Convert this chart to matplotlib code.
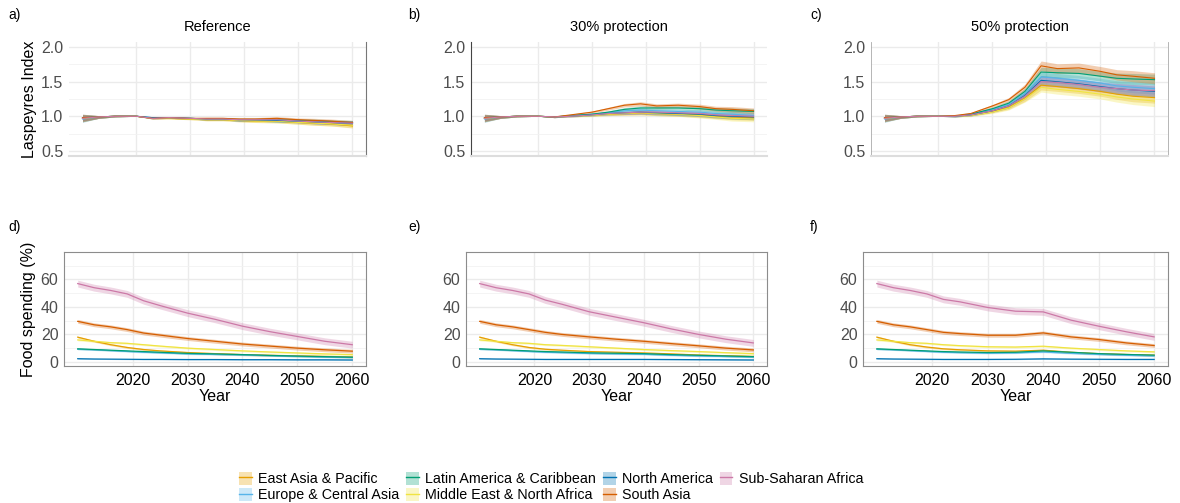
import matplotlib
matplotlib.use("Agg")
import matplotlib.pyplot as plt
from matplotlib.patches import Patch
from matplotlib.lines import Line2D
from matplotlib.ticker import MultipleLocator
import numpy as np

plt.rcParams['font.family'] = ['Liberation Sans', 'DejaVu Sans']

regions = ["East Asia & Pacific", "Europe & Central Asia", "Latin America & Caribbean",
           "Middle East & North Africa", "North America", "South Asia", "Sub-Saharan Africa"]
colors = ["#E69F00", "#56B4E9", "#009E73", "#F0E442", "#0072B2", "#D55E00", "#CC79A7"]

# ---- Top row: Laspeyres index ----
years_top = [2010, 2013, 2016, 2020, 2023, 2026, 2030, 2033, 2036, 2039, 2042, 2046, 2050, 2053, 2056, 2060]

idx_ref = {
    "East Asia & Pacific":        [0.97, 0.99, 1.00, 1.00, 0.97, 0.97, 0.96, 0.95, 0.95, 0.94, 0.93, 0.93, 0.91, 0.90, 0.89, 0.86],
    "Europe & Central Asia":      [0.96, 0.99, 1.00, 1.00, 0.98, 0.98, 0.97, 0.96, 0.96, 0.95, 0.95, 0.94, 0.93, 0.92, 0.91, 0.90],
    "Latin America & Caribbean":  [0.97, 0.99, 1.00, 1.00, 0.97, 0.98, 0.97, 0.96, 0.96, 0.95, 0.95, 0.95, 0.94, 0.93, 0.92, 0.91],
    "Middle East & North Africa": [0.97, 0.99, 1.00, 1.00, 0.97, 0.97, 0.96, 0.95, 0.95, 0.94, 0.93, 0.93, 0.91, 0.90, 0.89, 0.87],
    "North America":              [0.98, 0.99, 1.00, 1.00, 0.98, 0.98, 0.97, 0.96, 0.96, 0.95, 0.95, 0.94, 0.93, 0.92, 0.91, 0.90],
    "South Asia":                 [0.98, 0.99, 1.00, 1.00, 0.97, 0.98, 0.97, 0.97, 0.97, 0.96, 0.96, 0.97, 0.95, 0.94, 0.93, 0.91],
    "Sub-Saharan Africa":         [0.97, 0.99, 1.00, 1.00, 0.97, 0.98, 0.97, 0.96, 0.96, 0.95, 0.95, 0.95, 0.93, 0.92, 0.91, 0.90],
}
idx_30 = {
    "East Asia & Pacific":        [0.97, 0.99, 1.00, 1.00, 0.99, 1.00, 1.02, 1.03, 1.04, 1.05, 1.04, 1.03, 1.02, 1.00, 0.99, 0.98],
    "Europe & Central Asia":      [0.96, 0.99, 1.00, 1.00, 0.99, 1.01, 1.03, 1.05, 1.08, 1.09, 1.08, 1.07, 1.06, 1.04, 1.03, 1.01],
    "Latin America & Caribbean":  [0.97, 0.99, 1.00, 1.00, 0.99, 1.01, 1.03, 1.06, 1.10, 1.12, 1.12, 1.12, 1.11, 1.09, 1.08, 1.07],
    "Middle East & North Africa": [0.97, 0.99, 1.00, 1.00, 0.99, 1.00, 1.01, 1.03, 1.04, 1.05, 1.04, 1.03, 1.01, 0.99, 0.97, 0.96],
    "North America":              [0.98, 0.99, 1.00, 1.00, 0.99, 1.00, 1.02, 1.04, 1.05, 1.06, 1.05, 1.04, 1.03, 1.01, 1.00, 0.99],
    "South Asia":                 [0.98, 0.99, 1.00, 1.00, 0.99, 1.02, 1.06, 1.11, 1.16, 1.18, 1.15, 1.16, 1.14, 1.11, 1.10, 1.08],
    "Sub-Saharan Africa":         [0.97, 0.99, 1.00, 1.00, 0.99, 1.00, 1.02, 1.04, 1.05, 1.06, 1.06, 1.05, 1.04, 1.02, 1.01, 1.00],
}
idx_50 = {
    "East Asia & Pacific":        [0.97, 0.99, 1.00, 1.00, 1.00, 1.02, 1.07, 1.13, 1.26, 1.45, 1.43, 1.40, 1.36, 1.32, 1.29, 1.27],
    "Europe & Central Asia":      [0.96, 0.99, 1.00, 1.00, 1.00, 1.03, 1.10, 1.17, 1.33, 1.57, 1.55, 1.52, 1.48, 1.44, 1.42, 1.40],
    "Latin America & Caribbean":  [0.97, 0.99, 1.00, 1.00, 1.00, 1.03, 1.11, 1.19, 1.36, 1.64, 1.63, 1.62, 1.58, 1.55, 1.54, 1.53],
    "Middle East & North Africa": [0.97, 0.99, 1.00, 1.00, 1.00, 1.01, 1.06, 1.12, 1.25, 1.42, 1.39, 1.36, 1.32, 1.28, 1.25, 1.22],
    "North America":              [0.98, 0.99, 1.00, 1.00, 1.00, 1.02, 1.08, 1.15, 1.30, 1.52, 1.50, 1.47, 1.43, 1.40, 1.38, 1.36],
    "South Asia":                 [0.98, 0.99, 1.00, 1.00, 1.01, 1.04, 1.15, 1.24, 1.42, 1.73, 1.69, 1.70, 1.65, 1.60, 1.58, 1.55],
    "Sub-Saharan Africa":         [0.97, 0.99, 1.00, 1.00, 1.00, 1.02, 1.08, 1.15, 1.29, 1.50, 1.49, 1.46, 1.42, 1.40, 1.38, 1.37],
}
band_ref = [0.05, 0.02, 0.01, 0.00, 0.01, 0.01, 0.01, 0.015, 0.015, 0.02, 0.02, 0.025, 0.025, 0.03, 0.03, 0.03]
band_30 = [0.05, 0.02, 0.01, 0.00, 0.01, 0.01, 0.015, 0.02, 0.025, 0.03, 0.03, 0.03, 0.035, 0.035, 0.04, 0.04]
band_50 = [0.05, 0.02, 0.01, 0.00, 0.01, 0.015, 0.02, 0.03, 0.045, 0.07, 0.07, 0.07, 0.07, 0.075, 0.08, 0.08]

# ---- Bottom row: food spending share (%) ----
years_bot = [2010, 2013, 2016, 2019, 2022, 2025, 2030, 2035, 2040, 2045, 2050, 2055, 2060]

food_ref = {
    "East Asia & Pacific":        [18.0, 15.0, 12.5, 10.5, 9.0, 8.0, 6.8, 6.0, 5.3, 4.8, 4.4, 4.0, 3.6],
    "Europe & Central Asia":      [9.2, 8.8, 8.2, 7.6, 7.0, 6.6, 5.8, 5.4, 5.0, 4.5, 4.0, 3.5, 3.2],
    "Latin America & Caribbean":  [9.5, 9.0, 8.5, 8.0, 7.5, 7.0, 6.2, 5.8, 5.3, 4.7, 4.2, 3.8, 3.4],
    "Middle East & North Africa": [16.0, 15.0, 14.0, 13.5, 12.5, 11.5, 10.0, 9.0, 8.0, 7.2, 6.5, 5.8, 5.3],
    "North America":              [2.3, 2.1, 2.0, 1.9, 1.8, 1.8, 1.7, 1.7, 1.6, 1.6, 1.5, 1.5, 1.4],
    "South Asia":                 [29.5, 27.0, 25.5, 23.5, 21.0, 19.5, 17.0, 15.0, 13.0, 11.5, 10.0, 8.8, 7.8],
    "Sub-Saharan Africa":         [57.0, 54.0, 52.0, 49.5, 44.5, 41.0, 35.5, 31.0, 26.0, 22.0, 18.5, 15.0, 12.5],
}
food_30 = {
    "East Asia & Pacific":        [18.0, 15.0, 12.5, 10.5, 9.2, 8.5, 7.5, 7.0, 6.5, 5.8, 5.0, 4.5, 4.0],
    "Europe & Central Asia":      [9.2, 8.8, 8.2, 7.6, 7.0, 6.7, 6.1, 5.8, 5.5, 4.8, 4.3, 3.9, 3.5],
    "Latin America & Caribbean":  [9.5, 9.0, 8.5, 8.0, 7.5, 7.2, 6.6, 6.3, 6.0, 5.3, 4.8, 4.3, 3.8],
    "Middle East & North Africa": [16.0, 15.0, 14.0, 13.5, 12.5, 12.0, 11.0, 10.0, 9.0, 8.2, 7.5, 6.7, 6.0],
    "North America":              [2.3, 2.1, 2.0, 1.9, 1.8, 1.8, 1.8, 1.8, 1.8, 1.7, 1.6, 1.5, 1.4],
    "South Asia":                 [29.5, 27.0, 25.5, 23.5, 21.5, 20.0, 18.2, 16.5, 15.0, 13.3, 11.7, 10.0, 8.7],
    "Sub-Saharan Africa":         [57.0, 54.0, 52.0, 49.5, 45.0, 42.0, 36.5, 32.5, 28.5, 24.0, 20.0, 16.5, 13.8],
}
food_50 = {
    "East Asia & Pacific":        [18.0, 15.0, 12.5, 10.8, 9.5, 8.8, 8.0, 7.8, 8.5, 7.0, 6.0, 5.4, 4.9],
    "Europe & Central Asia":      [9.2, 8.8, 8.2, 7.6, 7.0, 6.7, 6.3, 6.5, 7.2, 6.2, 5.4, 4.8, 4.3],
    "Latin America & Caribbean":  [9.5, 9.0, 8.5, 8.0, 7.5, 7.2, 6.8, 7.0, 8.0, 7.0, 6.0, 5.4, 4.9],
    "Middle East & North Africa": [16.0, 15.0, 14.0, 13.5, 12.5, 11.8, 11.0, 10.8, 11.4, 10.0, 9.0, 8.0, 7.3],
    "North America":              [2.3, 2.1, 2.0, 1.9, 1.8, 1.8, 1.8, 1.9, 2.2, 2.0, 1.9, 1.8, 1.8],
    "South Asia":                 [29.5, 27.0, 25.5, 23.5, 21.5, 20.6, 19.4, 19.4, 21.1, 18.2, 16.3, 13.8, 11.9],
    "Sub-Saharan Africa":         [57.0, 54.0, 52.0, 49.5, 45.5, 43.7, 39.6, 36.9, 36.4, 30.4, 26.0, 21.9, 18.2],
}
band_food = {
    "East Asia & Pacific": 0.7, "Europe & Central Asia": 0.5, "Latin America & Caribbean": 0.5,
    "Middle East & North Africa": 0.7, "North America": 0.3, "South Asia": 1.4, "Sub-Saharan Africa": 2.5,
}

titles = ["Reference", "30% protection", "50% protection"]
top_labels = ["a)", "b)", "c)"]
bot_labels = ["d)", "e)", "f)"]
x_ticks = [2020, 2030, 2040, 2050, 2060]

W, H = 1180, 503
fig = plt.figure(figsize=(W / 100, H / 100), dpi=100)

def box(l, r, t, b):
    return [l / W, (H - b) / H, (r - l) / W, (b - t) / H]

top_boxes = [box(69, 366, 42, 156), box(471, 767, 42, 156), box(871, 1168, 42, 156)]
bot_boxes = [box(64, 366, 252, 366), box(466, 767, 252, 366), box(863, 1168, 252, 366)]

grid_col = "#EBEBEB"
tick_col = "#4D4D4D"

def style(ax):
    ax.set_facecolor("white")
    ax.grid(True, which="major", color=grid_col, lw=1.0)
    ax.grid(True, which="minor", axis="y", color="#F2F2F2", lw=0.6)
    ax.set_axisbelow(True)
    ax.tick_params(which="both", length=0, labelsize=11.5, colors=tick_col, pad=4)
    ax.set_xlim(2007.5, 2062.5)
    ax.xaxis.set_major_locator(plt.FixedLocator(x_ticks))

top_sets = [(idx_ref, band_ref), (idx_30, band_30), (idx_50, band_50)]
for i, (data, band) in enumerate(top_sets):
    ax = fig.add_axes(top_boxes[i])
    style(ax)
    for reg, col in zip(regions, colors):
        v = np.array(data[reg])
        b = np.array(band)
        ax.fill_between(years_top, v - b, v + b, color=col, alpha=0.3, lw=0)
    for reg, col in zip(regions, colors):
        ax.plot(years_top, data[reg], color=col, lw=0.8)
    ax.set_ylim(0.425, 2.075)
    ax.set_yticks([0.5, 1.0, 1.5, 2.0])
    ax.yaxis.set_minor_locator(MultipleLocator(0.25))
    ax.set_yticklabels(["0.5", "1.0", "1.5", "2.0"])
    ax.set_xticklabels([])
    for s in ax.spines.values():
        s.set_visible(False)
    ax.spines["bottom"].set_visible(True)
    ax.spines["bottom"].set_color("#DDDDDD")
    ax.spines["bottom"].set_linewidth(1.5)
    if i == 0:
        ax.spines["right"].set_visible(True)
        ax.spines["right"].set_color("#777777")
    elif i == 1:
        ax.spines["left"].set_visible(True)
        ax.spines["left"].set_color("#444444")
    else:
        ax.spines["left"].set_visible(True)
        ax.spines["right"].set_visible(True)
        ax.spines["left"].set_color("#AAAAAA")
        ax.spines["right"].set_color("#AAAAAA")
        ax.spines["left"].set_linewidth(0.6)
        ax.spines["right"].set_linewidth(0.6)
    ax.text(0.5, 1.13, titles[i], transform=ax.transAxes, ha="center", va="center", fontsize=10.5)
    if i == 0:
        ax.set_ylabel("Laspeyres Index", fontsize=11.5, labelpad=3)

bot_sets = [food_ref, food_30, food_50]
for i, data in enumerate(bot_sets):
    ax = fig.add_axes(bot_boxes[i])
    style(ax)
    for reg, col in zip(regions, colors):
        v = np.array(data[reg])
        b = band_food[reg]
        ax.fill_between(years_bot, v - b, v + b, color=col, alpha=0.3, lw=0)
    for reg, col in zip(regions, colors):
        ax.plot(years_bot, data[reg], color=col, lw=0.9)
    ax.set_ylim(-3, 80)
    ax.set_yticks([0, 20, 40, 60])
    ax.yaxis.set_minor_locator(MultipleLocator(10))
    ax.set_xticklabels([str(t) for t in x_ticks])
    ax.tick_params(axis="x", colors="black", pad=5)
    for s in ax.spines.values():
        s.set_color("#8C8C8C")
        s.set_linewidth(0.8)
    ax.set_xlabel("Year", fontsize=11.5, labelpad=1)
    if i == 0:
        ax.set_ylabel("Food spending (%)", fontsize=11.5, labelpad=3)

# panel letters
for lab, x in zip(top_labels, [8, 408, 810]):
    fig.text(x / W, 1 - 15 / H, lab, fontsize=10, ha="left", va="center")
for lab, x in zip(bot_labels, [8, 408, 810]):
    fig.text(x / W, 1 - 227 / H, lab, fontsize=10, ha="left", va="center")

# legend
handles = [(Patch(facecolor=c, alpha=0.3, edgecolor="none"), Line2D([], [], color=c, lw=1.0)) for c in colors]
fig.legend(handles, regions, loc="center left", bbox_to_anchor=(232 / W, 1 - 487 / H), ncol=4,
           frameon=False, fontsize=10.3, handlelength=0.9, handleheight=1.1,
           handletextpad=0.45, columnspacing=0.45, labelspacing=0.1, borderpad=0)

fig.savefig("out.png", dpi=100)
